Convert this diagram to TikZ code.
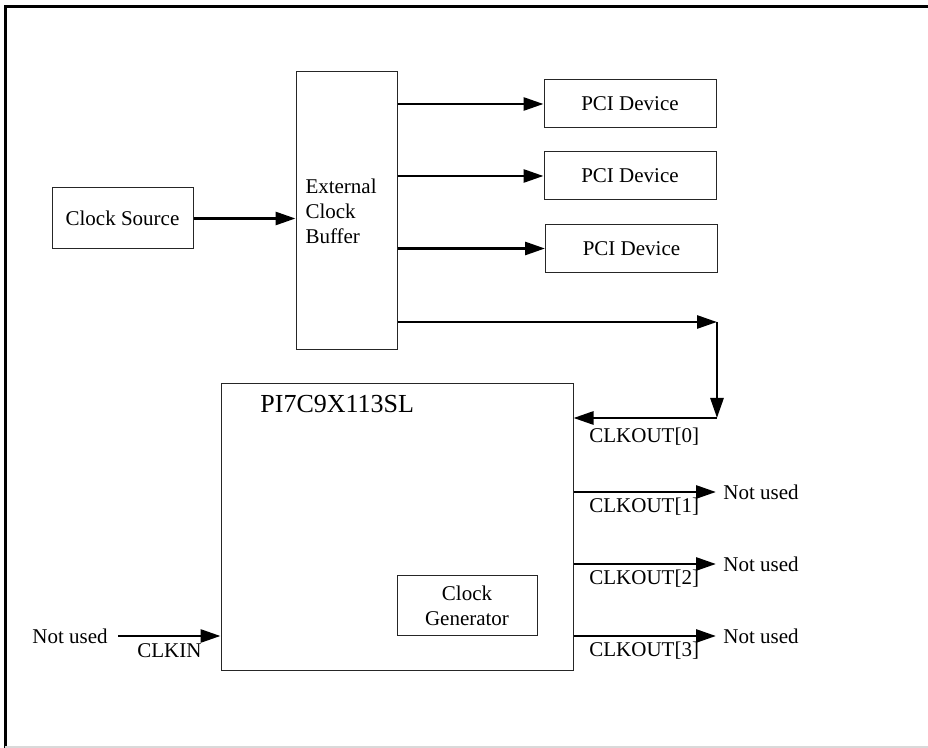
\documentclass[tikz,border=0pt]{standalone}
\usepackage{fontspec}
\setmainfont{Liberation Serif}
\usetikzlibrary{calc,arrows.meta}

\begin{document}
\begin{tikzpicture}[x=0.5pt,y=-0.5pt,auto]
       \tikzstyle{block} = [rectangle, draw=black!85, line width=0.5pt, inner sep=0pt, font=\fontsize{10.5}{12.5}\selectfont];
       \tikzstyle{sig} = [line width=1.4pt, -{Triangle[length=10pt,width=6.5pt]}];
       \tikzstyle{lbl} = [inner sep=0pt, font=\fontsize{10.5}{12.5}\selectfont];
       \useasboundingbox (0,0) rectangle (928,748);
       % page frame
       \draw[line width=1.5pt] (5,760) -- (5,7) -- (940,7);
       \draw[black!15, line width=0.6pt] (5,747) -- (928,747);

       \node[block, minimum width=70.5pt, minimum height=30.5pt] (source) at (122.5,218.5) {Clock Source};
       \node[block, minimum height=139pt, text width=41pt, inner xsep=4.75pt, align=left] (buffer) at (346.5,211) {External\\Clock\\Buffer};
       \node[block, minimum width=86pt, minimum height=24pt] (pci1) at (630,104) {PCI Device};
       \node[block, minimum width=86pt, minimum height=24pt] (pci2) at (630,176) {PCI Device};
       \node[block, minimum width=86pt, minimum height=24pt] (pci3) at (631.5,248.5) {PCI Device};

       \node[block, minimum width=176pt, minimum height=143.5pt] (chip) at (397,527.5) {};
       \node[lbl, anchor=base west, font=\fontsize{13}{15}\selectfont] (chipname) at (260,413) {PI7C9X113SL};
       \node[block, minimum width=70pt, minimum height=30pt, align=center] (clkgen) at (467,606) {Clock\\Generator};

       \draw[sig] (source.east) -- (source.east -| buffer.west);
       \draw[sig] (pci1.west -| buffer.east) -- (pci1.west);
       \draw[sig] (pci2.west -| buffer.east) -- (pci2.west);
       \draw[sig] (pci3.west -| buffer.east) -- (pci3.west);

       % feedback to CLKOUT[0]
       \coordinate (turn) at (717,322);
       \coordinate (back) at (717,418);
       \draw[sig] (turn -| buffer.east) -- (turn);
       \draw[sig] (turn) -- (back);
       \draw[sig] (back) -- (back -| chip.east);
       \node[lbl, anchor=base west] (clkout0) at (589,443) {CLKOUT[0]};

       \node[lbl, anchor=west, inner sep=3.5pt] (unused1) at (716,492) {Not used};
       \node[lbl, anchor=west, inner sep=3.5pt] (unused2) at (716,564) {Not used};
       \node[lbl, anchor=west, inner sep=3.5pt] (unused3) at (716,636) {Not used};
       \draw[sig] (unused1.west -| chip.east) -- (unused1.west);
       \draw[sig] (unused2.west -| chip.east) -- (unused2.west);
       \draw[sig] (unused3.west -| chip.east) -- (unused3.west);
       \node[lbl, anchor=base west] (clkout1) at (589,513) {CLKOUT[1]};
       \node[lbl, anchor=base west] (clkout2) at (589,585) {CLKOUT[2]};
       \node[lbl, anchor=base west] (clkout3) at (589,657) {CLKOUT[3]};

       \node[lbl, anchor=east, inner sep=5pt] (unusedin) at (118,636) {Not used};
       \draw[sig] (unusedin.east) -- (unusedin.east -| chip.west);
       \node[lbl, anchor=base west] (clkin) at (137,658) {CLKIN};
\end{tikzpicture}
\end{document}
